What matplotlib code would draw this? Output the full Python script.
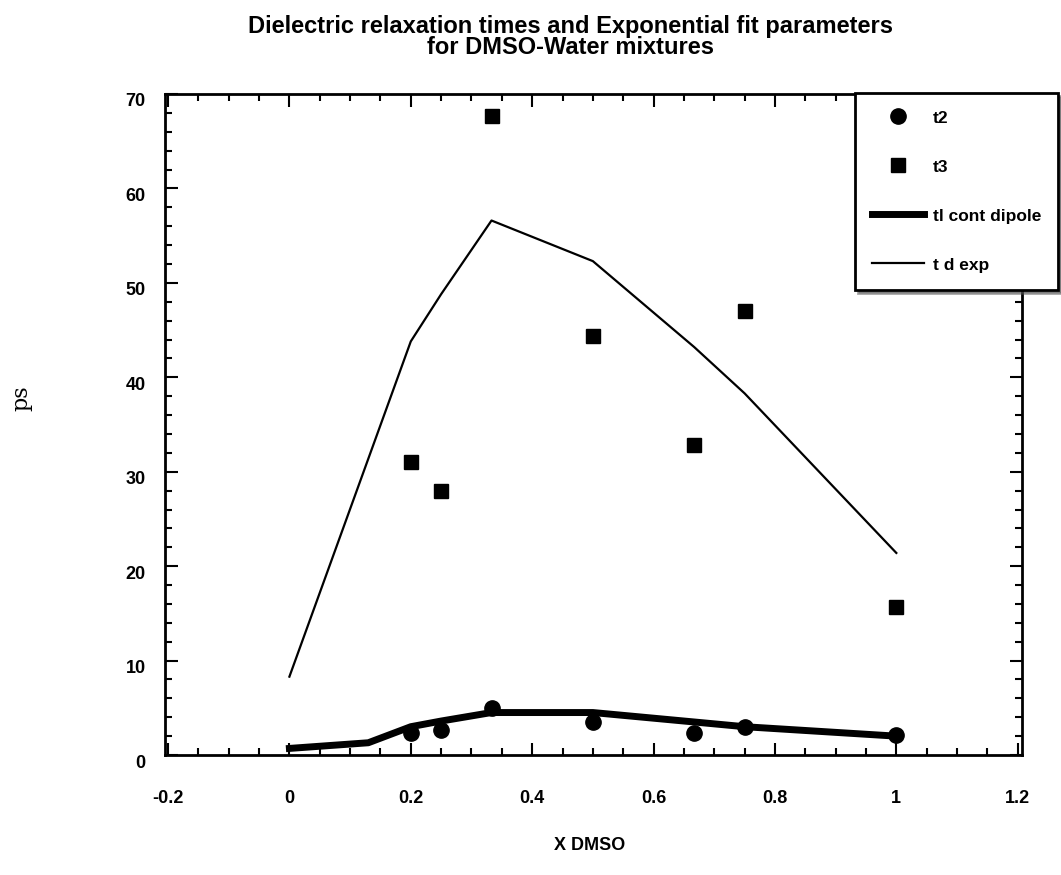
import matplotlib
matplotlib.use("Agg")
import matplotlib.pyplot as plt
from matplotlib.ticker import MultipleLocator, FuncFormatter
from matplotlib.transforms import ScaledTranslation

plt.rcParams["font.family"] = ["Liberation Sans", "DejaVu Sans"]
plt.rcParams["font.weight"] = "bold"

# mole fraction of DMSO
x_pts = [0.2, 0.25, 0.333, 0.5, 0.667, 0.75, 1.0]
t2 = [2.3, 2.6, 5.0, 3.5, 2.3, 3.0, 2.1]
t3 = [31.0, 28.0, 67.7, 44.4, 32.8, 47.0, 15.7]

x_dipole = [0.0, 0.13, 0.2, 0.25, 0.333, 0.5, 0.667, 0.75, 1.0]
tl_dipole = [0.7, 1.3, 3.0, 3.6, 4.5, 4.5, 3.5, 3.0, 2.0]

x_exp = [0.0, 0.2, 0.25, 0.333, 0.5, 0.667, 0.75, 1.0]
td_exp = [8.3, 43.8, 48.8, 56.6, 52.3, 43.2, 38.3, 21.4]

fig = plt.figure(figsize=(10.61, 8.75), dpi=100)
ax = fig.add_axes([0.1555, 0.1371, 0.8077, 0.7555])

ax.plot(x_pts, t2, "o", color="black", ms=11, label="t2")
ax.plot(x_pts, t3, "s", color="black", ms=10, label="t3")
ax.plot(x_dipole, tl_dipole, "-", color="black", lw=5, label="tl cont dipole")
ax.plot(x_exp, td_exp, "-", color="black", lw=1.6, label="t d exp")

ax.set_xlim(-0.205, 1.207)
ax.set_ylim(0, 70)
ax.xaxis.set_major_locator(MultipleLocator(0.2))
ax.xaxis.set_minor_locator(MultipleLocator(0.05))
ax.yaxis.set_major_locator(MultipleLocator(10))
ax.yaxis.set_minor_locator(MultipleLocator(2))
ax.xaxis.set_major_formatter(FuncFormatter(lambda v, p: "%g" % round(v, 2)))
ax.yaxis.set_major_formatter(FuncFormatter(lambda v, p: "%g" % v))

ax.tick_params(which="both", direction="in", top=True, right=True, width=1.5)
ax.tick_params(which="major", length=9)
ax.tick_params(which="minor", length=5)
ax.tick_params(axis="x", which="major", pad=25, labelsize=13)
ax.tick_params(axis="y", which="major", pad=14, labelsize=13)
for s in ax.spines.values():
    s.set_linewidth(2)

# y labels sit a little low in the original
shift = ScaledTranslation(0, -6 / 100, fig.dpi_scale_trans)
for lab in ax.get_yticklabels():
    lab.set_transform(lab.get_transform() + shift)

ax.set_xlabel("X DMSO", fontsize=13, fontweight="bold")
ax.xaxis.set_label_coords(0.496, -0.124)
ax.set_ylabel("ps", fontsize=16, family="DejaVu Serif", fontweight="normal")
ax.yaxis.set_label_coords(-0.155, 0.54)

fig.text(0.538, 1 - 37 / 875,
         "Dielectric relaxation times and Exponential fit parameters\nfor DMSO-Water mixtures",
         ha="center", va="center", fontsize=17, fontweight="bold", linespacing=0.88)

leg = ax.legend(loc="upper left",
                bbox_to_anchor=(855 / 1061, 1 - 287 / 875, 203 / 1061, 194 / 875),
                bbox_transform=fig.transFigure, mode="expand", borderaxespad=0,
                fontsize=12.5, frameon=True, fancybox=False, shadow=True,
                labelspacing=1.95, handlelength=3.0, handletextpad=0.5, borderpad=1.0)
leg.get_frame().set_edgecolor("black")
leg.get_frame().set_linewidth(2)
leg.set_zorder(5)

fig.savefig("out.png", dpi=100)
